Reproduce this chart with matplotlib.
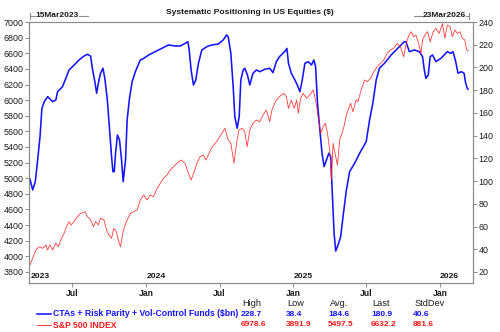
import numpy as np
import matplotlib
matplotlib.use("Agg")
import matplotlib.pyplot as plt
import matplotlib.dates as mdates
from datetime import datetime, timedelta

plt.rcParams['font.family'] = ['Liberation Sans', 'DejaVu Sans']

# ---- data (dates as decimal years) ----
cta_t = [2023.207, 2023.225, 2023.243, 2023.259, 2023.275, 2023.288, 2023.304, 2023.327, 2023.361, 2023.383,
         2023.395, 2023.428, 2023.451, 2023.473, 2023.507, 2023.541, 2023.575, 2023.598, 2023.620, 2023.632,
         2023.649, 2023.661, 2023.677, 2023.688, 2023.704, 2023.717, 2023.734, 2023.749, 2023.763, 2023.772,
         2023.781, 2023.790, 2023.803, 2023.817, 2023.831, 2023.842, 2023.858, 2023.869, 2023.885, 2023.903,
         2023.925, 2023.959, 2023.982, 2024.016, 2024.061, 2024.106, 2024.151, 2024.197, 2024.231, 2024.264,
         2024.283, 2024.292, 2024.305, 2024.321, 2024.337, 2024.355, 2024.378, 2024.412, 2024.445, 2024.490,
         2024.524, 2024.547, 2024.558, 2024.576, 2024.592, 2024.603, 2024.619, 2024.633, 2024.644, 2024.660,
         2024.671, 2024.689, 2024.705, 2024.727, 2024.751, 2024.773, 2024.807, 2024.841, 2024.863, 2024.886,
         2024.908, 2024.942, 2024.958, 2024.969, 2024.988, 2025.010, 2025.026, 2025.044, 2025.060, 2025.078,
         2025.100, 2025.123, 2025.139, 2025.151, 2025.164, 2025.180, 2025.195, 2025.209, 2025.225, 2025.241,
         2025.254, 2025.266, 2025.277, 2025.288, 2025.304, 2025.322, 2025.338, 2025.361, 2025.383, 2025.417,
         2025.451, 2025.496, 2025.519, 2025.541, 2025.564, 2025.586, 2025.620, 2025.666, 2025.711, 2025.756,
         2025.767, 2025.790, 2025.824, 2025.858, 2025.880, 2025.892, 2025.903, 2025.919, 2025.932, 2025.948,
         2025.971, 2026.005, 2026.049, 2026.073, 2026.088, 2026.106, 2026.122, 2026.144, 2026.163, 2026.174,
         2026.185, 2026.190]
cta_v = [101.6, 92.2, 99.5, 118.6, 139.0, 164.0, 169.9, 174.3, 169.9, 171.4,
         178.7, 183.0, 190.4, 197.8, 202.0, 206.6, 210.0, 211.6, 210.0, 199.0,
         187.5, 177.3, 189.0, 194.9, 199.3, 190.4, 171.4, 145.0, 121.5, 108.3,
         108.3, 124.5, 140.6, 136.2, 118.6, 99.5, 118.6, 153.8, 172.9, 187.5,
         196.3, 206.6, 208.0, 211.0, 213.9, 216.8, 219.8, 218.9, 218.9, 221.2,
         222.7, 215.4, 197.8, 184.6, 189.0, 203.6, 215.4, 218.3, 219.8, 220.6,
         224.2, 228.7, 227.0, 212.4, 183.0, 156.7, 146.5, 156.7, 189.0, 197.8,
         199.3, 193.4, 184.6, 194.9, 197.8, 196.3, 198.4, 199.3, 195.4, 205.1,
         209.5, 213.9, 216.8, 203.6, 194.9, 189.0, 184.6, 178.7, 189.0, 203.6,
         205.1, 202.2, 206.6, 200.7, 168.5, 145.0, 124.5, 112.7, 118.6, 124.5,
         121.5, 86.3, 54.1, 38.4, 43.8, 51.1, 68.7, 92.2, 108.3, 115.7,
         124.5, 134.7, 153.8, 168.5, 189.0, 199.3, 203.6, 211.0, 216.8, 222.7,
         222.7, 213.9, 215.4, 213.9, 209.5, 197.8, 190.4, 193.4, 209.5, 211.0,
         205.1, 208.0, 213.9, 212.4, 213.9, 205.1, 194.9, 196.3, 194.9, 186.1,
         181.7, 180.9]

spx_t = [2023.207, 2023.225, 2023.247, 2023.270, 2023.293, 2023.315, 2023.327, 2023.342, 2023.361, 2023.383,
         2023.401, 2023.417, 2023.439, 2023.456, 2023.473, 2023.485, 2023.507, 2023.530, 2023.553, 2023.582,
         2023.598, 2023.620, 2023.639, 2023.654, 2023.673, 2023.688, 2023.711, 2023.729, 2023.744, 2023.763,
         2023.778, 2023.795, 2023.808, 2023.824, 2023.839, 2023.851, 2023.869, 2023.892, 2023.914, 2023.937,
         2023.959, 2023.982, 2024.005, 2024.027, 2024.049, 2024.073, 2024.095, 2024.117, 2024.140, 2024.163,
         2024.185, 2024.208, 2024.237, 2024.264, 2024.287, 2024.305, 2024.327, 2024.344, 2024.366, 2024.388,
         2024.407, 2024.427, 2024.449, 2024.479, 2024.508, 2024.536, 2024.558, 2024.576, 2024.597, 2024.615,
         2024.631, 2024.653, 2024.671, 2024.687, 2024.705, 2024.727, 2024.751, 2024.773, 2024.795, 2024.818,
         2024.841, 2024.856, 2024.879, 2024.897, 2024.920, 2024.938, 2024.954, 2024.969, 2024.988, 2025.005,
         2025.022, 2025.033, 2025.049, 2025.066, 2025.089, 2025.112, 2025.134, 2025.151, 2025.168, 2025.186,
         2025.202, 2025.218, 2025.232, 2025.247, 2025.259, 2025.270, 2025.281, 2025.300, 2025.315, 2025.331,
         2025.344, 2025.361, 2025.376, 2025.390, 2025.405, 2025.428, 2025.439, 2025.462, 2025.485, 2025.503,
         2025.525, 2025.548, 2025.571, 2025.593, 2025.616, 2025.639, 2025.661, 2025.683, 2025.706, 2025.729,
         2025.751, 2025.767, 2025.783, 2025.801, 2025.819, 2025.835, 2025.853, 2025.869, 2025.880, 2025.896,
         2025.914, 2025.932, 2025.953, 2025.971, 2025.993, 2026.016, 2026.032, 2026.049, 2026.068, 2026.083,
         2026.100, 2026.117, 2026.136, 2026.151, 2026.168, 2026.181, 2026.192]
spx_v = [3892, 3975, 4082, 4124, 4103, 4146, 4082, 4146, 4082, 4167,
         4124, 4210, 4295, 4380, 4444, 4402, 4444, 4508, 4551, 4572,
         4508, 4466, 4380, 4444, 4402, 4487, 4466, 4338, 4274, 4232,
         4359, 4316, 4210, 4124, 4295, 4380, 4466, 4551, 4572, 4594,
         4722, 4786, 4722, 4786, 4764, 4871, 4935, 5000, 5042, 5106,
         5148, 5191, 5234, 5191, 5063, 4978, 5084, 5191, 5276, 5298,
         5234, 5319, 5404, 5468, 5554, 5639, 5490, 5447, 5191, 5447,
         5618, 5639, 5596, 5404, 5618, 5703, 5746, 5724, 5810, 5874,
         5724, 5874, 5980, 6023, 6066, 6087, 6044, 5895, 6002, 5895,
         6002, 5831, 6023, 6087, 6023, 6066, 6130, 6002, 5788, 5575,
         5660, 5703, 5575, 5362, 4982, 5447, 5340, 5170, 5490, 5575,
         5660, 5810, 5895, 5959, 5852, 6002, 5980, 6130, 6258, 6236,
         6279, 6364, 6428, 6471, 6514, 6599, 6642, 6663, 6727, 6684,
         6556, 6706, 6812, 6876, 6812, 6834, 6727, 6599, 6770, 6834,
         6876, 6748, 6876, 6919, 6855, 6979, 6791, 6962, 6940, 6812,
         6898, 6855, 6876, 6791, 6770, 6642, 6632]

stat_cols = ["High", "Low", "Avg.", "Last", "StdDev"]
cta_name = "CTAs + Risk Parity + Vol-Control Funds ($bn)"
spx_name = "S&P 500 INDEX"
cta_stats = ["228.7", "38.4", "184.6", "180.9", "40.6"]
spx_stats = ["6978.6", "3891.9", "5497.5", "6632.2", "881.6"]
title = "Systematic Positioning in US Equities ($)"
start_label, end_label = "15Mar2023", "23Mar2026"
left_ticks = list(range(3800, 7001, 200))
right_ticks = list(range(20, 241, 20))


def to_dates(ts):
    out = []
    for t in ts:
        y = int(t)
        out.append(datetime(y, 1, 1) + timedelta(days=(t - y) * 365.0))
    return out


BLUE = "#1414ff"
RED = "#ff1a1a"
GRID = "#8c8c8c"
TXT = "#1a1a1a"

fig = plt.figure(figsize=(5.0, 3.32), dpi=100)
ax = fig.add_axes([0.058, 0.1476, 0.8874, 0.7861])
ax2 = ax.twinx()

ax.plot(to_dates(spx_t), spx_v, color=RED, lw=0.6, alpha=0.85, zorder=2)
ax2.plot(to_dates(cta_t), cta_v, color=BLUE, lw=1.15, zorder=3)
ax.set_zorder(ax2.get_zorder() + 1)
ax.patch.set_visible(False)

x0, x1 = datetime(2023, 3, 15), datetime(2026, 3, 23)
ax.set_xlim(x0, x1)
ax.set_ylim(3659, 7000)
ax2.set_ylim(10.3, 240)
ax.set_yticks(left_ticks)
ax2.set_yticks(right_ticks)

for a in (ax, ax2):
    for s in a.spines.values():
        s.set_color(GRID)
        s.set_linewidth(0.8)
    a.tick_params(axis='both', colors=GRID, labelcolor=TXT, labelsize=6.4, length=3, width=0.7, pad=1)

ticks = [datetime(2023, 7, 1), datetime(2024, 1, 1), datetime(2024, 7, 1),
         datetime(2025, 1, 1), datetime(2025, 7, 1), datetime(2026, 1, 1)]
ax.set_xticks(ticks)
ax.set_xticklabels([d.strftime("%b") for d in ticks], fontweight='bold', fontsize=6.2)
ax.tick_params(axis='x', pad=1.5)
ax2.tick_params(axis='x', length=0)

# year labels inside
years = [(x0 + timedelta(days=3), "2023"), (datetime(2024, 1, 1), "2024"),
         (datetime(2025, 1, 1), "2025"), (datetime(2026, 1, 1), "2026")]
for d, s in years:
    ax.text(d, 0.012, s, transform=ax.get_xaxis_transform(), ha='left', va='bottom',
            fontsize=6.1, fontweight='bold', color=TXT)

# title and date brackets
fig.text(0.5, 0.962, title, ha='center', va='center', fontsize=6.1, fontweight='bold', color=TXT)
fig.text(0.070, 0.952, start_label, ha='left', va='center', fontsize=6.0, fontweight='bold', color=TXT)
fig.add_artist(plt.Line2D([0.060, 0.069], [0.952, 0.952], color=GRID, lw=0.8))
fig.add_artist(plt.Line2D([0.158, 0.176], [0.952, 0.952], color=GRID, lw=0.8))
fig.add_artist(plt.Line2D([0.060, 0.060], [0.942, 0.962], color=GRID, lw=0.8))
fig.text(0.931, 0.952, end_label, ha='right', va='center', fontsize=6.0, fontweight='bold', color=TXT)
fig.add_artist(plt.Line2D([0.828, 0.845], [0.952, 0.952], color=GRID, lw=0.8))
fig.add_artist(plt.Line2D([0.932, 0.938], [0.952, 0.952], color=GRID, lw=0.8))
fig.add_artist(plt.Line2D([0.938, 0.938], [0.942, 0.962], color=GRID, lw=0.8))

# stats legend
col_x = [0.482, 0.572, 0.656, 0.742, 0.826]
y_head, y1, y2 = 1 - 303 / 332, 1 - 314 / 332, 1 - 325 / 332
for cx, h in zip(col_x, stat_cols):
    fig.text(cx + 0.003, y_head, h, ha='left', va='center', fontsize=6.6, color=TXT)
fig.add_artist(plt.Line2D([0.074, 0.102], [y1, y1], color=BLUE, lw=1.15))
fig.add_artist(plt.Line2D([0.074, 0.102], [y2, y2], color=RED, lw=0.6))
fig.text(0.106, y1, cta_name, ha='left', va='center', fontsize=6.2, fontweight='bold', color=BLUE)
fig.text(0.106, y2, spx_name, ha='left', va='center', fontsize=6.2, fontweight='bold', color=RED)
for cx, a, b in zip(col_x, cta_stats, spx_stats):
    fig.text(cx, y1, a, ha='left', va='center', fontsize=6.0, fontweight='bold', color=BLUE)
    fig.text(cx, y2, b, ha='left', va='center', fontsize=6.0, fontweight='bold', color=RED)

fig.savefig("out.png", dpi=100)
